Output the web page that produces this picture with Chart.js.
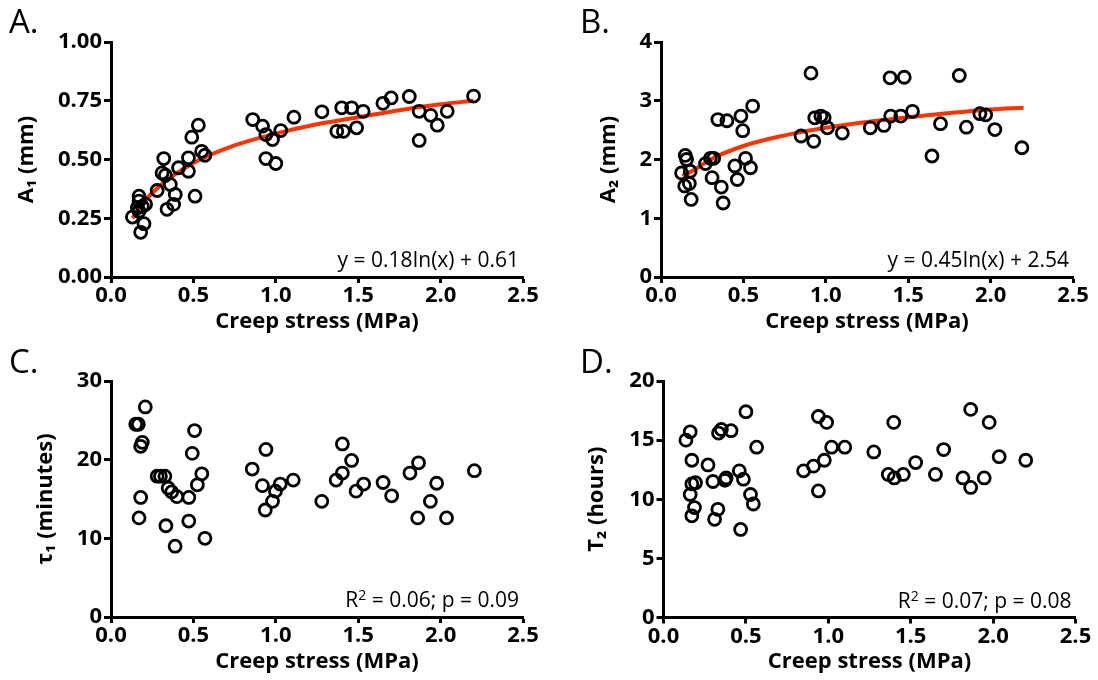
<!DOCTYPE html>
<html>
<head>
<meta charset="utf-8">
<script src="https://cdn.jsdelivr.net/npm/chart.js@4.4.0/dist/chart.umd.min.js"></script>
<style>
  body { margin: 0; background: #fff; }
  #wrap { position: relative; width: 1098px; height: 680px; }
  .panel { position: absolute; width: 549px; height: 340px; }
  .letter { position: absolute; font: 33px 'Open Sans', sans-serif; color: #000; line-height: 1; }
</style>
</head>
<body>
<div id="wrap">
  <div class="panel" style="left:0;top:0"><canvas id="chartA"></canvas></div>
  <div class="panel" style="left:549px;top:0"><canvas id="chartB"></canvas></div>
  <div class="panel" style="left:0;top:340px"><canvas id="chartC"></canvas></div>
  <div class="panel" style="left:549px;top:340px"><canvas id="chartD"></canvas></div>
  <div class="letter" style="left:9px;top:4px">A.</div>
  <div class="letter" style="left:580px;top:4px">B.</div>
  <div class="letter" style="left:9px;top:344px">C.</div>
  <div class="letter" style="left:580px;top:344px">D.</div>
</div>
<script>
// panel A: amplitude A1 (mm)
const stressA = [0.13, 0.17, 0.17, 0.16, 0.19, 0.21, 0.18, 0.2, 0.17, 0.28, 0.32, 0.31, 0.33, 0.36, 0.34, 0.38, 0.39, 0.41, 0.47, 0.47, 0.49, 0.53, 0.51, 0.55, 0.57, 0.86, 0.92, 0.94, 0.98, 0.94, 1.0, 1.03, 1.11, 1.28, 1.37, 1.41, 1.4, 1.46, 1.49, 1.53, 1.65, 1.7, 1.81, 1.87, 1.87, 1.94, 1.98, 2.04, 2.2];
const valuesA = [0.255, 0.344, 0.323, 0.295, 0.3, 0.31, 0.19, 0.227, 0.28, 0.368, 0.504, 0.443, 0.433, 0.394, 0.288, 0.309, 0.351, 0.465, 0.507, 0.45, 0.595, 0.646, 0.344, 0.535, 0.518, 0.67, 0.642, 0.606, 0.585, 0.504, 0.483, 0.623, 0.68, 0.703, 0.62, 0.62, 0.72, 0.72, 0.635, 0.705, 0.739, 0.762, 0.768, 0.705, 0.581, 0.688, 0.646, 0.705, 0.77];
const fitXA = [0.13, 0.2, 0.3, 0.5, 0.75, 1.0, 1.25, 1.5, 1.75, 2.0, 2.2];
const fitYA = [0.25, 0.32, 0.39, 0.485, 0.56, 0.61, 0.65, 0.68, 0.71, 0.735, 0.75];

// panel B: amplitude A2 (mm)
const stressB = [0.125, 0.147, 0.155, 0.144, 0.172, 0.183, 0.177, 0.27, 0.3, 0.32, 0.31, 0.345, 0.366, 0.377, 0.4, 0.448, 0.463, 0.485, 0.496, 0.513, 0.543, 0.556, 0.85, 0.91, 0.927, 0.933, 0.97, 0.99, 1.01, 1.1, 1.27, 1.353, 1.39, 1.394, 1.455, 1.476, 1.526, 1.644, 1.696, 1.81, 1.853, 1.935, 1.97, 2.026, 2.19];
const valuesB = [1.77, 2.07, 2.0, 1.55, 1.59, 1.32, 1.8, 1.93, 2.02, 2.02, 1.69, 2.68, 1.53, 1.26, 2.66, 1.89, 1.66, 2.74, 2.49, 2.02, 1.86, 2.91, 2.4, 3.47, 2.31, 2.71, 2.74, 2.71, 2.54, 2.45, 2.54, 2.58, 3.39, 2.74, 2.74, 3.4, 2.82, 2.06, 2.61, 3.43, 2.55, 2.78, 2.76, 2.51, 2.2];
const fitXB = [0.13, 0.2, 0.3, 0.5, 0.75, 1.0, 1.25, 1.5, 1.75, 2.0, 2.2];
const fitYB = [1.72, 1.82, 2.0, 2.23, 2.41, 2.54, 2.64, 2.72, 2.79, 2.85, 2.88];

// panel C: tau1 (minutes)
const stressC = [0.15, 0.166, 0.208, 0.18, 0.19, 0.18, 0.17, 0.28, 0.3, 0.327, 0.347, 0.368, 0.4, 0.333, 0.389, 0.472, 0.472, 0.507, 0.493, 0.524, 0.551, 0.57, 0.857, 0.919, 0.94, 0.936, 0.98, 0.998, 1.027, 1.106, 1.279, 1.366, 1.404, 1.404, 1.46, 1.487, 1.533, 1.651, 1.703, 1.814, 1.866, 1.861, 1.938, 1.976, 2.036, 2.205];
const valuesC = [24.5, 24.5, 26.7, 21.7, 22.2, 15.2, 12.6, 17.9, 17.9, 17.9, 16.4, 15.9, 15.3, 11.6, 9.0, 15.2, 12.2, 23.7, 20.8, 16.8, 18.2, 10.0, 18.8, 16.7, 21.3, 13.6, 14.7, 16.0, 16.9, 17.4, 14.7, 17.4, 22.0, 18.3, 19.9, 16.0, 16.9, 17.1, 15.4, 18.3, 19.6, 12.6, 14.7, 17.0, 12.6, 18.6];

// panel D: T2 (hours)
const stressD = [0.136, 0.162, 0.172, 0.162, 0.172, 0.194, 0.188, 0.172, 0.27, 0.3, 0.31, 0.33, 0.334, 0.351, 0.373, 0.38, 0.41, 0.46, 0.485, 0.468, 0.5, 0.528, 0.545, 0.565, 0.85, 0.91, 0.94, 0.94, 0.976, 0.99, 1.02, 1.1, 1.276, 1.364, 1.397, 1.4, 1.455, 1.53, 1.65, 1.7, 1.817, 1.864, 1.864, 1.946, 1.976, 2.037, 2.198];
const valuesD = [15.0, 15.7, 13.3, 10.4, 11.3, 11.4, 9.3, 8.6, 12.9, 11.5, 8.3, 9.15, 15.6, 15.9, 11.6, 11.8, 15.8, 12.4, 11.7, 7.45, 17.4, 10.4, 9.6, 14.4, 12.4, 12.8, 17.0, 10.7, 13.3, 16.5, 14.4, 14.4, 14.0, 12.1, 16.5, 11.8, 12.1, 13.1, 12.1, 14.2, 11.8, 17.6, 11.0, 11.8, 16.5, 13.6, 13.3];

const xTicks = [0, 0.5, 1.0, 1.5, 2.0, 2.5];
const FONT = "'Open Sans', sans-serif";

const pairs = (xs, ys) => xs.map((x, i) => ({ x: x, y: ys[i] }));

// draws the fit/stat text in the lower right of the plot area
const noteText = {
  id: "noteText",
  afterDraw(chart, args, opts) {
    const { ctx, chartArea } = chart;
    ctx.save();
    ctx.font = "21px " + FONT;
    ctx.fillStyle = "#000";
    ctx.textAlign = "right";
    ctx.textBaseline = "alphabetic";
    const x = chartArea.right - 4;
    const y = chartArea.bottom - 10;
    if (opts.sup) {
      // "R² = ..." with a raised 2
      ctx.fillText(opts.rest, x, y);
      const w = ctx.measureText(opts.rest).width;
      ctx.font = "14px " + FONT;
      const w2 = ctx.measureText("2").width;
      ctx.fillText("2", x - w, y - 7);
      ctx.font = "21px " + FONT;
      ctx.fillText("R", x - w - w2, y);
    } else if (opts.text) {
      ctx.fillText(opts.text, x, y);
    }
    ctx.restore();
  },
};

function makeChart(id, cfg) {
  const datasets = [
    {
      type: "scatter",
      data: pairs(cfg.xs, cfg.ys),
      pointStyle: "circle",
      pointRadius: 6,
      pointHoverRadius: 6,
      pointBorderWidth: 2.8,
      borderColor: "#000",
      backgroundColor: "rgba(0,0,0,0)",
      showLine: false,
    },
  ];
  if (cfg.fitX) {
    datasets.push({
      type: "line",
      data: pairs(cfg.fitX, cfg.fitY),
      borderColor: "#ff3300",
      borderWidth: 4,
      pointRadius: 0,
      fill: false,
      cubicInterpolationMode: "monotone",
    });
  }
  return new Chart(document.getElementById(id), {
    type: "scatter",
    data: { datasets },
    plugins: [noteText],
    options: {
      responsive: true,
      maintainAspectRatio: false,
      animation: false,
      layout: { padding: { top: cfg.padTop, right: cfg.padRight, bottom: 0, left: 0 } },
      plugins: {
        legend: { display: false },
        tooltip: { enabled: false },
        noteText: cfg.note,
      },
      scales: {
        x: {
          type: "linear",
          min: 0,
          max: 2.5,
          afterBuildTicks: (s) => { s.ticks = xTicks.map((v) => ({ value: v })); },
          afterFit: (s) => { s.height = cfg.xHeight; },
          border: { display: true, color: "#000", width: 3 },
          grid: { display: true, drawOnChartArea: false, drawTicks: true, tickLength: 6, tickWidth: 3, tickColor: "#000" },
          ticks: {
            color: "#000",
            padding: 0,
            maxRotation: 0,
            font: { family: FONT, size: 22, weight: "bold" },
            callback: (v) => Number(v).toFixed(1),
          },
          title: {
            display: true,
            text: "Creep stress (MPa)",
            color: "#000",
            padding: { top: 0, bottom: 5 },
            font: { family: FONT, size: 22, weight: "bold" },
          },
        },
        y: {
          type: "linear",
          min: cfg.yMin,
          max: cfg.yMax,
          afterBuildTicks: (s) => { s.ticks = cfg.yTicks.map((v) => ({ value: v })); },
          afterFit: (s) => { s.width = cfg.yWidth; },
          border: { display: true, color: "#000", width: 3 },
          grid: { display: true, drawOnChartArea: false, drawTicks: true, tickLength: 7, tickWidth: 3, tickColor: "#000" },
          ticks: {
            color: "#000",
            padding: 2,
            font: { family: FONT, size: 22, weight: "bold" },
            callback: (v) => Number(v).toFixed(cfg.yDigits),
          },
          title: {
            display: true,
            text: cfg.yTitle,
            color: "#000",
            padding: { top: cfg.titlePad, bottom: 0 },
            font: { family: FONT, size: 22, weight: "bold" },
          },
        },
      },
    },
  });
}

makeChart("chartA", {
  xs: stressA, ys: valuesA, fitX: fitXA, fitY: fitYA,
  yMin: 0, yMax: 1, yTicks: [0, 0.25, 0.5, 0.75, 1.0], yDigits: 2,
  yTitle: "A\u2081 (mm)", yWidth: 111, titlePad: 14,
  padTop: 42, padRight: 26, xHeight: 63,
  note: { text: "y = 0.18In(x) + 0.61" },
});
makeChart("chartB", {
  xs: stressB, ys: valuesB, fitX: fitXB, fitY: fitYB,
  yMin: 0, yMax: 4, yTicks: [0, 1, 2, 3, 4], yDigits: 0,
  yTitle: "A\u2082 (mm)", yWidth: 112, titlePad: 47,
  padTop: 42, padRight: 25, xHeight: 63,
  note: { text: "y = 0.45In(x) + 2.54" },
});
makeChart("chartC", {
  xs: stressC, ys: valuesC,
  yMin: 0, yMax: 30, yTicks: [0, 10, 20, 30], yDigits: 0,
  yTitle: "\u03c4\u2081 (minutes)", yWidth: 111, titlePad: 33,
  padTop: 41, padRight: 26, xHeight: 63,
  note: { sup: true, rest: " = 0.06; p = 0.09" },
});
makeChart("chartD", {
  xs: stressD, ys: valuesD,
  yMin: 0, yMax: 20, yTicks: [0, 5, 10, 15, 20], yDigits: 0,
  yTitle: "T\u2082 (hours)", yWidth: 114.5, titlePad: 35,
  padTop: 41, padRight: 22.5, xHeight: 62.5,
  note: { sup: true, rest: " = 0.07; p = 0.08" },
});
</script>
</body>
</html>
